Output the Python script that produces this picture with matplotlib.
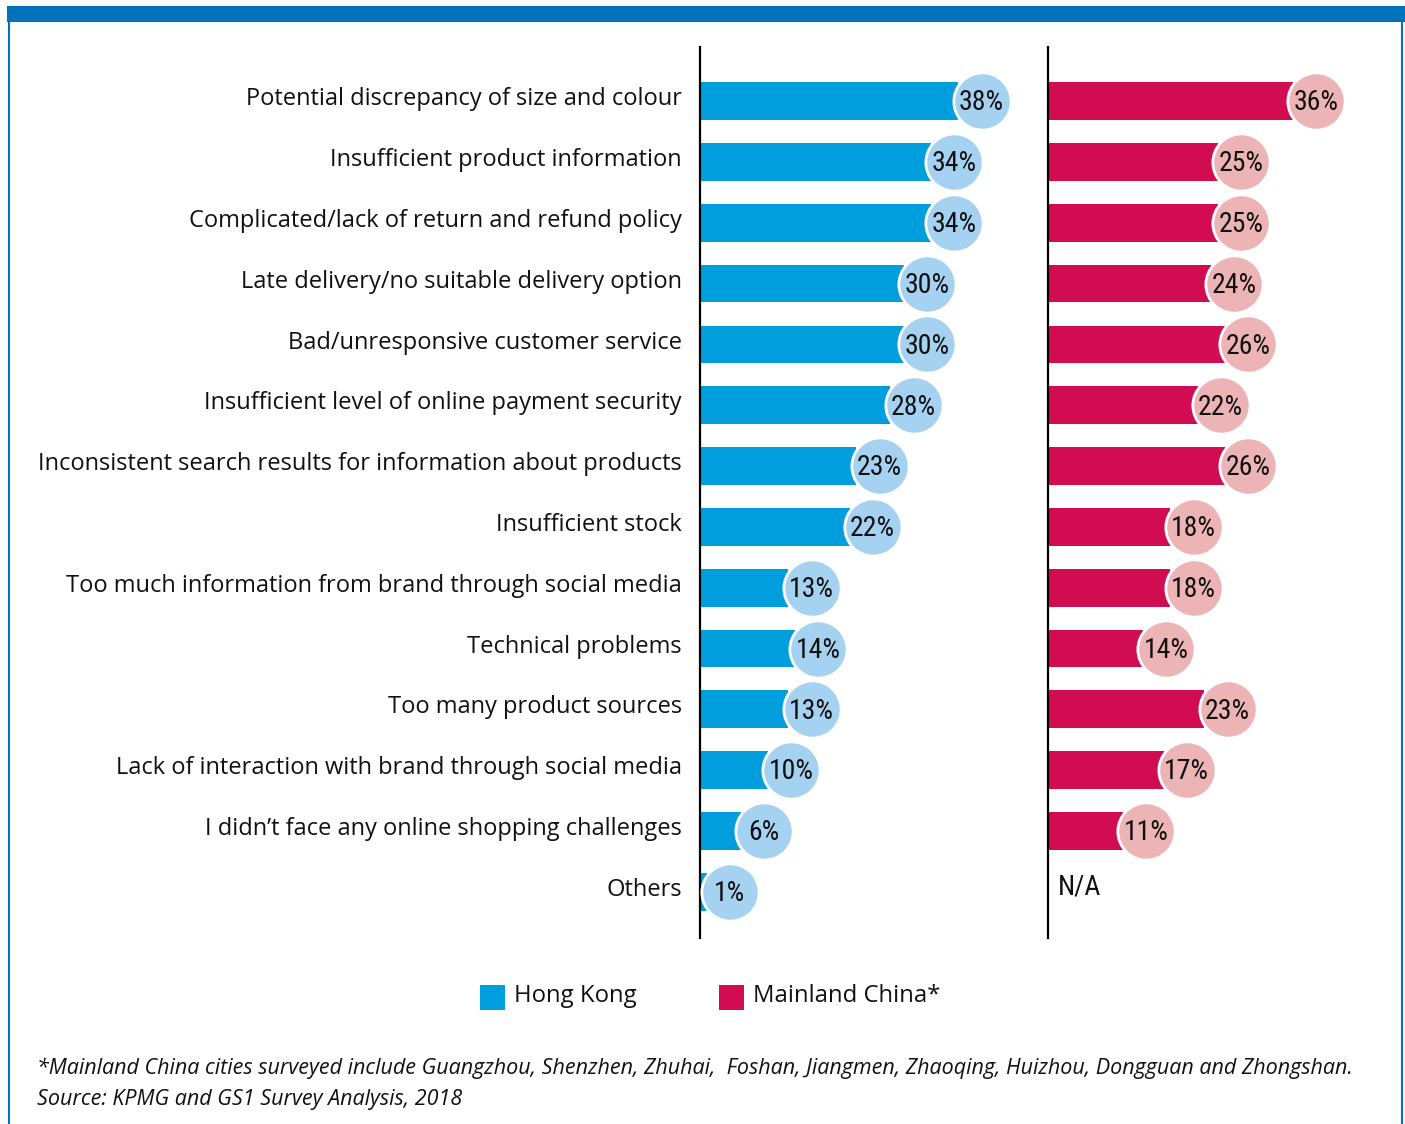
import matplotlib.pyplot as plt
from matplotlib.patches import Rectangle
from matplotlib.lines import Line2D

categories = [
    'Potential discrepancy of size and colour',
    'Insufficient product information',
    'Complicated/lack of return and refund policy',
    'Late delivery/no suitable delivery option',
    'Bad/unresponsive customer service',
    'Insufficient level of online payment security',
    'Inconsistent search results for information about products',
    'Insufficient stock',
    'Too much information from brand through social media',
    'Technical problems',
    'Too many product sources',
    'Lack of interaction with brand through social media',
    'I didn\u2019t face any online shopping challenges',
    'Others',
]
hong_kong = [38, 34, 34, 30, 30, 28, 23, 22, 13, 14, 13, 10, 6, 1]
mainland = [36, 25, 25, 24, 26, 22, 26, 18, 18, 14, 23, 17, 11, None]

HK_BAR = '#009edd'
HK_DOT = '#a6d2f1'
MC_BAR = '#d20c50'
MC_DOT = '#edb4b5'
FRAME = '#0072bc'
INK = '#111111'

W, H = 1405, 1124
fig = plt.figure(figsize=(W / 100, H / 100), dpi=100)

narrow = ['Liberation Sans Narrow', 'Roboto Condensed', 'Roboto', 'DejaVu Sans']
label_font = ['Open Sans', 'DejaVu Sans']

y = [-i for i in range(len(categories))]
ax_bottom = 1 - 938 / H
ax_height = (938 - 47) / H


def make_axes(left_px):
    ax = fig.add_axes([left_px / W, ax_bottom, 340 / W, ax_height])
    ax.set_xlim(0, 50)
    ax.set_ylim(-13.76, 0.89)
    for s in ['top', 'right', 'bottom']:
        ax.spines[s].set_visible(False)
    ax.spines['left'].set_linewidth(1.6)
    ax.spines['left'].set_color('black')
    ax.set_xticks([])
    ax.patch.set_alpha(0)
    return ax


ax1 = make_axes(700)
ax1.barh(y, hong_kong, height=0.62, color=HK_BAR, zorder=2)
ax1.scatter([v + 3.4 for v in hong_kong], y, s=1700, color=HK_DOT,
            edgecolor='white', linewidth=2, zorder=3, clip_on=False)
for yi, v in zip(y, hong_kong):
    ax1.text(v + 3.4, yi - 0.03, f'{v}%', ha='center', va='center',
             fontsize=20, family=narrow, color=INK, zorder=4)
ax1.set_yticks([yi + 0.08 for yi in y])
ax1.set_yticklabels(categories, fontsize=17, family=label_font, color=INK)
ax1.tick_params(axis='y', length=0, pad=13)

ax2 = make_axes(1048)
ax2.set_yticks([])
for yi, v in zip(y, mainland):
    if v is None:
        ax2.text(1.4, yi + 0.08, 'N/A', ha='left', va='center',
                 fontsize=20, family=narrow, color=INK)
        continue
    ax2.barh(yi, v, height=0.62, color=MC_BAR, zorder=2)
    ax2.scatter(v + 3.4, yi, s=1700, color=MC_DOT, edgecolor='white',
                linewidth=2, zorder=3, clip_on=False)
    ax2.text(v + 3.4, yi - 0.03, f'{v}%', ha='center', va='center',
             fontsize=20, family=narrow, color=INK, zorder=4)

# frame: top band and side borders
fig.add_artist(Rectangle((7 / W, 1 - 22 / H), (W - 7) / W, 16 / H,
                         transform=fig.transFigure, color=FRAME, lw=0))
fig.add_artist(Line2D([8.5 / W, 8.5 / W], [0, 1 - 22 / H], color=FRAME, lw=1.5))
fig.add_artist(Line2D([1401.5 / W, 1401.5 / W], [0, 1 - 22 / H], color=FRAME, lw=1.5))

# legend
fig.add_artist(Rectangle((480 / W, 1 - 1010 / H), 25 / W, 25 / H,
                         transform=fig.transFigure, color=HK_BAR, lw=0))
fig.text(514 / W, 1 - 996 / H, 'Hong Kong', fontsize=17.2, family=label_font,
         va='center', ha='left', color=INK)
fig.add_artist(Rectangle((719 / W, 1 - 1010 / H), 25 / W, 25 / H,
                         transform=fig.transFigure, color=MC_BAR, lw=0))
fig.text(753 / W, 1 - 996 / H, 'Mainland China*', fontsize=17.2, family=label_font,
         va='center', ha='left', color=INK)

# footnote
fig.text(37 / W, 1 - 1068 / H,
         '*Mainland China cities surveyed include Guangzhou, Shenzhen, Zhuhai,  Foshan, '
         'Jiangmen, Zhaoqing, Huizhou, Dongguan and Zhongshan.',
         fontsize=15.5, style='italic', family=label_font, va='center', color=INK)
fig.text(37 / W, 1 - 1100 / H, 'Source: KPMG and GS1 Survey Analysis, 2018',
         fontsize=15.5, style='italic', family=label_font, va='center', color=INK)

fig.savefig('out.png', dpi=100)
